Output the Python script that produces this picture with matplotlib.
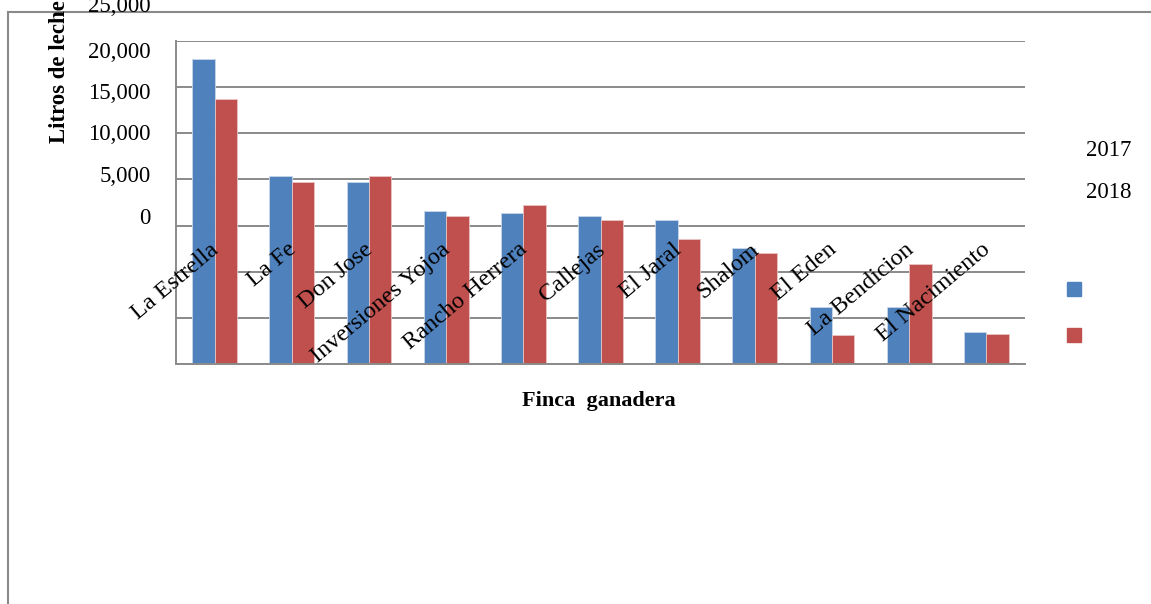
import matplotlib
matplotlib.use("Agg")
import matplotlib.pyplot as plt
import numpy as np
from matplotlib.lines import Line2D
from matplotlib.patches import Rectangle

# data (litros de leche por finca)
fincas = ["La Estrella", "La Fe", "Don Jose", "Inversiones Yojoa", "Rancho Herrera",
          "Callejas", "El Jaral", "Shalom", "El Eden", "La Bendicion", "El Nacimiento"]
litros_2017 = [33050, 20400, 19750, 16600, 16350, 16050, 15600, 12550, 6200, 6200, 3450]
litros_2018 = [28700, 19750, 20400, 16050, 17200, 15600, 13550, 12000, 3150, 10850, 3300]
series = ["2017", "2018"]
colors = ["#4F81BD", "#C0504D"]
ytick_labels = ["25,000", "20,000", "15,000", "10,000", "5,000", "0"]

W, H = 1151, 604
grid_c = "#8a8a8a"
serif = "Liberation Serif"

fig = plt.figure(figsize=(W / 100, H / 100), dpi=100)
ax = fig.add_axes([176 / W, 1 - 364 / H, (1025 - 176) / W, (364 - 41) / H])

x = np.arange(len(fincas))
bw = 0.29
ax.bar(x - bw / 2, litros_2017, bw, color=colors[0], edgecolor="#c9d7ea", linewidth=0.6, zorder=2)
ax.bar(x + bw / 2, litros_2018, bw, color=colors[1], edgecolor="#e8c4c3", linewidth=0.6, zorder=2)

ax.set_xlim(-0.5, len(fincas) - 0.5)
ax.set_ylim(0, 35000)
ax.set_yticks(np.arange(0, 35001, 5000))
ax.set_xticks([])
ax.yaxis.grid(True, color=grid_c, linewidth=1.4)
ax.set_axisbelow(True)
ax.tick_params(axis="y", length=0, labelleft=False)
for s in ["top", "right"]:
    ax.spines[s].set_visible(False)
for s in ["left", "bottom"]:
    ax.spines[s].set_color(grid_c)
    ax.spines[s].set_linewidth(1.4)

# category labels, rotated, over the bars
for i, name in enumerate(fincas):
    ax.text(i + 0.02, (364 - 247) / (364 - 41), name, transform=ax.get_xaxis_transform(),
            rotation=40, rotation_mode="anchor", ha="right", va="center",
            fontsize=17.5, family=serif, zorder=5)

# misplaced y tick labels as in the source
for k, lab in enumerate(ytick_labels):
    ypx = 218 - 41.5 * (len(ytick_labels) - 1 - k)
    if k == 0:
        ypx -= 4
    fig.text(151 / W, 1 - ypx / H, lab, ha="right", va="center", fontsize=16.5, family=serif)

fig.text(60 / W, 1 - 143 / H, "Litros de leche", rotation=90, ha="center", va="bottom",
         fontsize=16.5, fontweight="bold", family=serif)
fig.text(599 / W, 1 - 401 / H, "Finca  ganadera", ha="center", va="center",
         fontsize=16, fontweight="bold", family=serif)

# detached legend
for j, (lab, c) in enumerate(zip(series, colors)):
    fig.text(1086 / W, 1 - (151 + 41 * j) / H, lab, ha="left", va="center", fontsize=16.5, family=serif)
    fig.add_artist(Rectangle((1067 / W, 1 - (296 + 46 * j) / H), 14 / W, 14 / H,
                             transform=fig.transFigure, color=c))

# outer chart frame
fig.add_artist(Line2D([8 / W, 8 / W], [0, 1 - 12 / H], transform=fig.transFigure, color=grid_c, linewidth=1.5))
fig.add_artist(Line2D([8 / W, 1.01], [1 - 12 / H, 1 - 12 / H], transform=fig.transFigure, color=grid_c, linewidth=1.5))

fig.savefig("out.png", dpi=100)
